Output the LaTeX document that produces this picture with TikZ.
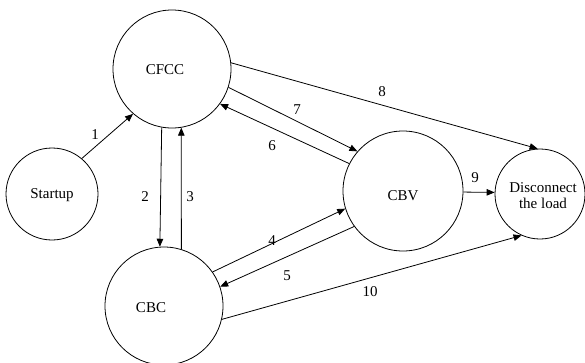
\documentclass[tikz,border=0pt]{standalone}
\usepackage{fontspec}
\setmainfont{Liberation Serif}
\usetikzlibrary{arrows.meta}
\begin{document}
\begin{tikzpicture}[x=1pt,y=-1pt,
  state/.style={draw, circle, line width=0.8pt, inner sep=0pt},
  lbl/.style={font=\fontsize{15}{16}\selectfont, inner sep=0pt},
  conn/.style={line width=0.8pt, -{Triangle[length=8pt,width=6.5pt]}}]
\useasboundingbox (0,0) rectangle (585,362);
\node[state, minimum size=118pt] (cfcc) at (172,69) {};
\node[state, minimum size=92pt] (start) at (52,194) {};
\node[state, minimum size=118pt] (cbc) at (164,306) {};
\node[state, minimum size=120pt] (cbv) at (403,191) {};
\node[state, minimum size=90pt] (disc) at (540,194) {};
\node[lbl] (tcfcc) at (165,70) {CFCC};
\node[lbl] (tstart) at (52,195) {Startup};
\node[lbl] (tcbc) at (151,308) {CBC};
\node[lbl] (tcbv) at (403,196) {CBV};
\node[lbl, align=center] (tdisc) at (543,196) {Disconnect\\the load};
\draw[conn] (start.50) -- (cfcc.-131);
\draw[conn] (cfcc.-100.8) -- (cbc.94);
\draw[conn] (cbc.73.6) -- (cfcc.-81);
\draw[conn] (cbc.35.6) -- (cbv.-163.8);
\draw[conn] (cbv.216.3) -- (cbc.19.6);
\draw[conn] (cbv.153) -- (cfcc.-36.7);
\draw[conn] (cfcc.-18.4) -- (cbv.139.3);
\draw[conn] (cfcc.6) -- (disc.93.7);
\draw[conn] (cbv.-1) -- (disc.178);
\draw[conn] (cbc.-13.3) -- (disc.246.3);
\node[lbl] (l1) at (95,135) {1};
\node[lbl] (l2) at (145,197) {2};
\node[lbl] (l3) at (190,197) {3};
\node[lbl] (l4) at (272,241) {4};
\node[lbl] (l5) at (287,276) {5};
\node[lbl] (l6) at (272,146) {6};
\node[lbl] (l7) at (297,110) {7};
\node[lbl] (l8) at (382,92) {8};
\node[lbl] (l9) at (475,178) {9};
\node[lbl] (l10) at (370,292) {10};
\end{tikzpicture}
\end{document}
